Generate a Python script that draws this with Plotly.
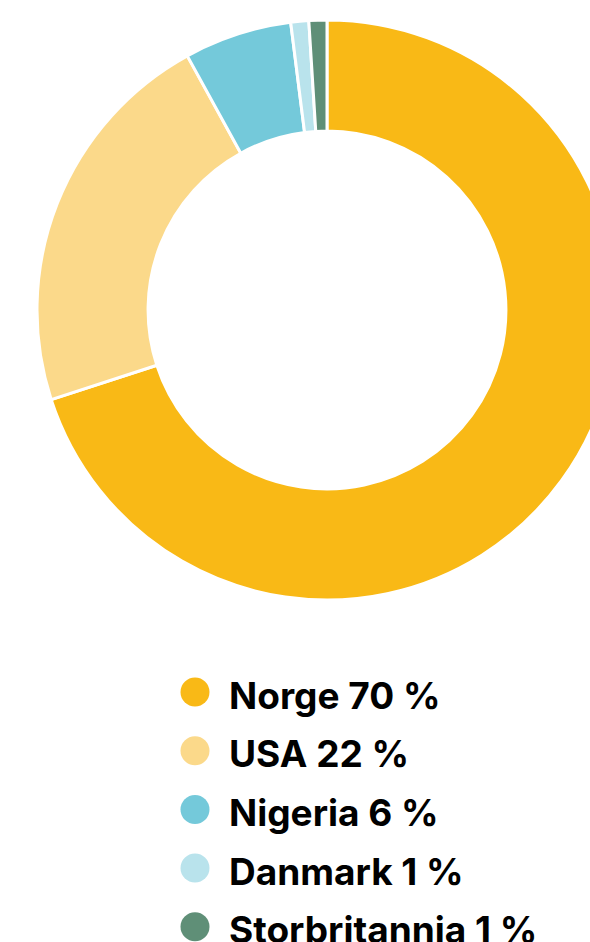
import plotly.graph_objects as go

countries = ["Norge", "USA", "Nigeria", "Danmark", "Storbritannia"]
shares = [70, 22, 6, 1, 1]
colors = ["#F9B916", "#FBD98A", "#74C9DA", "#B9E3EC", "#5F8F77"]

W, H = 654, 942

def px(x):
    return x / W

def py(y):
    return 1 - y / H

fig = go.Figure()
fig.add_trace(go.Pie(
    labels=countries, values=shares,
    hole=0.617, sort=False, direction="clockwise", rotation=0,
    marker=dict(colors=colors, line=dict(color="white", width=3)),
    textinfo="none", hoverinfo="label+percent", showlegend=False,
    domain=dict(x=[0, 1], y=[py(600), py(20)]),
))

# legend drawn by hand: big dots + bold labels
shapes, annotations = [], []
row0, step, r = 692, 58.7, 14.5
for i, (name, val, col) in enumerate(zip(countries, shares, colors)):
    cy = row0 + i * step
    shapes.append(dict(type="circle", xref="paper", yref="paper",
                       x0=px(195 - r), x1=px(195 + r), y0=py(cy + r), y1=py(cy - r),
                       fillcolor=col, line=dict(width=0)))
    annotations.append(dict(text=f"<b>{name} {val} %</b>", xref="paper", yref="paper",
                            x=px(227), y=py(cy + 3), xanchor="left", yanchor="middle",
                            showarrow=False, font=dict(size=37, color="black", family="Inter")))

fig.update_layout(width=W, height=H, margin=dict(l=0, r=0, t=0, b=0),
                  paper_bgcolor="white", plot_bgcolor="white",
                  shapes=shapes, annotations=annotations)

fig.write_html("out.html", post_script="document.body.style.margin='0';document.body.style.overflow='hidden';")
